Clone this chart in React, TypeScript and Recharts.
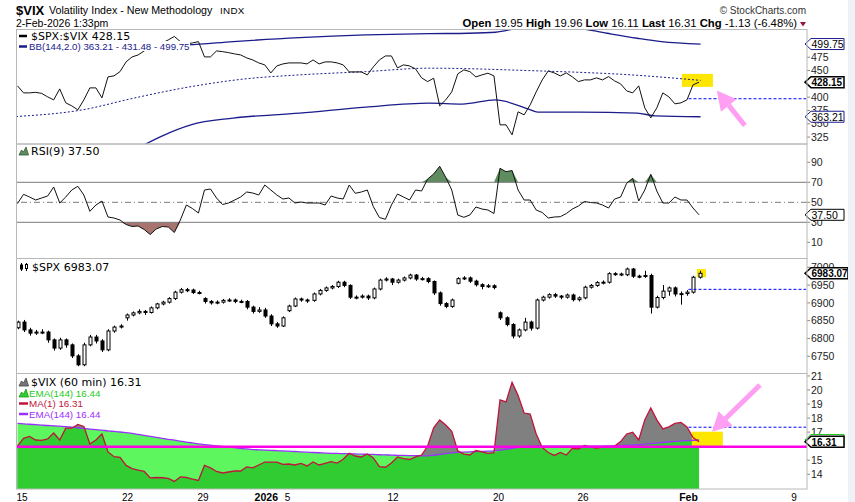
import React from "react";
import {
  Area,
  Bar,
  ComposedChart,
  Line,
  ReferenceArea,
  ReferenceLine,
  XAxis,
  YAxis,
} from "recharts";

const SANS = "'Liberation Sans', Arial, sans-serif";
const DEJAVU = "'DejaVu Sans', Verdana, sans-serif";

const NAVY = "#1b1b8c";
const BLUE = "#0000ff";
const PINK = "#ff9ff3";
const YELLOW = "#ffe600";
const FRAME = "#b8b8b8";

const PAGE_W = 855;
const AXIS_W = 41;
const MARGIN = { top: 0, right: 6, bottom: 0, left: 16 };
// x is the hourly bar number, 0 = first bar of 15 Dec
const T_DOMAIN: [number, number] = [-2, 260.3];

const dayTicks = [0, 35, 60, 81, 88, 123, 158, 186, 221, 256];
const dayLabels = ["15", "22", "29", "2026", "5", "12", "20", "26", "Feb", "9"];
const boldLabels = ["2026", "Feb"];

// one sample every two hourly bars
const ratio = [
  421.2, 408, 408, 409, 407.1, 400.5, 394.9, 415.5, 389.3, 383.6,
  376.1, 394.9, 417.4, 417.4, 398.6, 438, 440, 448, 466.2, 475.6,
  479.3, 486.8, 494.3, 498.1, 501.8, 507.5, 514, 504.3, 500, 501.8,
  504.3, 475.6, 475.6, 486.8, 485.5, 483.6, 481.2, 479.3, 473.7, 469.9,
  464.3, 460.6, 445.5, 458.7, 462.4, 464.3, 464.3, 464.3, 462.4, 469.9,
  462.4, 466.2, 466.2, 464.3, 460.6, 447.4, 447.4, 447.4, 441.8, 456.8,
  469.9, 477.4, 477.4, 454.9, 460.6, 458.7, 453, 436.2, 429.2, 435.6,
  383.6, 394.9, 409.9, 443.7, 451.2, 448, 438, 441.8, 445, 439.9,
  348, 348, 329.2, 372.4, 366.8, 385.5, 409.9, 432.4, 449.3, 445.5,
  439.9, 445.5, 438, 429.2, 432.4, 432.4, 436.2, 432.4, 438.6, 430.5,
  424.9, 411.8, 408, 421.2, 379.9, 361.1, 379.9, 408, 400.5, 387.4,
  389.3, 394.9, 423, 428.15,
];

const bbUpperT = [-2, 26, 55, 70, 92, 114, 135, 148, 157, 165, 175, 184, 194, 204, 212, 225];
const bbUpper = [494.3, 495.3, 498.1, 504.3, 511.8, 516.8, 519.3, 520, 521.9, 530, 533.7, 530, 520, 510.6, 504.3, 499.75];
const bbMidT = [-2, 20, 37, 55, 73, 92, 114, 135, 168, 202, 225];
const bbMid = [363.6, 376.1, 398.1, 418.7, 433.7, 441.8, 448, 454.4, 449.9, 441.8, 431.48];
const bbLowerT = [26, 41, 46, 56, 70, 92, 114, 135, 146, 157, 168, 171, 185, 204, 210, 225];
const bbLower = [262, 312, 326, 348, 360.6, 369.9, 381.2, 388.7, 387, 394.9, 377.4, 371.8, 371.8, 369.9, 364.9, 363.21];

const rsi = [
  48.8, 58, 55.3, 52.3, 54.3, 56.3, 65.3, 49.3, 55.3, 62.3,
  66, 57.3, 41, 47.3, 51.3, 35.3, 34.3, 32.3, 27.8, 25.8,
  26.3, 22.8, 17.8, 23.3, 25.8, 25.3, 19.8, 32.3, 47.3, 43.8,
  39.3, 62.3, 63.3, 54.3, 47.8, 49.3, 52.3, 55.3, 60.3, 59.3,
  57.3, 67.3, 62.3, 57.3, 53.3, 54.3, 49.3, 50.3, 49.3, 49.3,
  49.3, 47.3, 56.3, 54.3, 53.3, 67.3, 59, 60.3, 62.3, 45.6,
  34.8, 33, 47.3, 58.3, 55.3, 52.3, 62.3, 61.3, 73.3, 78.3,
  86, 75, 62.3, 37.3, 35, 37.3, 45.3, 43.3, 42.3, 38.8,
  84, 80.6, 81.8, 62.3, 52.3, 52.3, 42.3, 39.8, 34.3, 35.3,
  35.6, 38.8, 43.3, 46.3, 50.8, 49.8, 49.3, 47.3, 44.3, 53.3,
  55.3, 69, 74, 51.3, 62.3, 78, 61.3, 49.3, 49.3, 55.3,
  52.3, 52.3, 44.3, 37.5,
];

const spxOpen = [
  6830, 6846, 6824, 6815, 6818, 6818, 6796, 6773, 6796, 6782,
  6751, 6726, 6782, 6804, 6793, 6768, 6821, 6832, 6858, 6866,
  6872, 6876, 6873, 6886, 6897, 6902, 6912, 6930, 6937, 6936,
  6929, 6912, 6904, 6900, 6902, 6907, 6908, 6904, 6904, 6888,
  6876, 6880, 6863, 6841, 6835, 6878, 6891, 6911, 6908, 6907,
  6925, 6935, 6942, 6946, 6958, 6949, 6916, 6916, 6919, 6914,
  6939, 6964, 6967, 6958, 6964, 6970, 6978, 6967, 6968, 6960,
  6928, 6898, 6890, 6955, 6968, 6970, 6961, 6951, 6946, 6948,
  6872, 6858, 6839, 6807, 6824, 6846, 6829, 6908, 6916, 6923,
  6919, 6916, 6922, 6909, 6914, 6944, 6949, 6957, 6958, 6982,
  6981, 6979, 6995, 6975, 6974, 6977, 6888, 6915, 6933, 6942,
  6925, 6926, 6930, 6972,
];
const spxHigh = [
  6850, 6852, 6830, 6824, 6826, 6822, 6800, 6802, 6800, 6786,
  6756, 6788, 6810, 6810, 6798, 6826, 6836, 6840, 6870, 6876,
  6882, 6880, 6890, 6900, 6906, 6916, 6934, 6942, 6942, 6940,
  6934, 6916, 6908, 6907, 6911, 6913, 6912, 6909, 6908, 6892,
  6888, 6886, 6868, 6846, 6862, 6895, 6915, 6915, 6912, 6929,
  6939, 6946, 6950, 6962, 6962, 6952, 6921, 6924, 6923, 6943,
  6968, 6972, 6970, 6968, 6974, 6982, 6981, 6973, 6972, 6963,
  6932, 6902, 6912, 6972, 6975, 6974, 6965, 6955, 6953, 6952,
  6876, 6862, 6843, 6828, 6858, 6850, 6912, 6920, 6927, 6928,
  6922, 6926, 6926, 6918, 6948, 6953, 6961, 6963, 6986, 6986,
  6985, 6999, 6998, 6979, 6990, 6982, 6920, 6950, 6946, 6946,
  6932, 6936, 6976, 6990,
];
const spxLow = [
  6826, 6818, 6808, 6810, 6812, 6788, 6766, 6768, 6774, 6745,
  6722, 6722, 6778, 6786, 6762, 6764, 6816, 6828, 6850, 6862,
  6868, 6866, 6870, 6882, 6893, 6898, 6908, 6926, 6930, 6925,
  6924, 6898, 6895, 6896, 6898, 6903, 6899, 6899, 6882, 6870,
  6872, 6858, 6835, 6830, 6832, 6874, 6888, 6903, 6900, 6903,
  6921, 6931, 6938, 6942, 6944, 6911, 6910, 6912, 6908, 6910,
  6935, 6960, 6950, 6954, 6960, 6966, 6962, 6963, 6955, 6922,
  6892, 6885, 6886, 6952, 6964, 6956, 6946, 6938, 6942, 6938,
  6852, 6834, 6800, 6802, 6820, 6822, 6825, 6904, 6912, 6914,
  6910, 6912, 6904, 6904, 6910, 6940, 6945, 6952, 6954, 6976,
  6975, 6975, 6970, 6969, 6970, 6870, 6884, 6910, 6920, 6918,
  6895, 6920, 6926, 6968,
];
const spxClose = [
  6846, 6824, 6815, 6818, 6818, 6796, 6773, 6796, 6782, 6751,
  6726, 6782, 6804, 6793, 6768, 6821, 6832, 6835, 6866, 6872,
  6876, 6873, 6886, 6897, 6902, 6912, 6930, 6937, 6936, 6929,
  6928, 6904, 6900, 6902, 6907, 6908, 6904, 6904, 6888, 6876,
  6880, 6863, 6841, 6835, 6858, 6891, 6911, 6908, 6907, 6925,
  6935, 6942, 6946, 6958, 6949, 6916, 6916, 6919, 6914, 6939,
  6964, 6967, 6958, 6964, 6970, 6978, 6967, 6968, 6960, 6928,
  6898, 6890, 6908, 6968, 6970, 6961, 6951, 6946, 6948, 6943,
  6858, 6839, 6807, 6824, 6846, 6829, 6908, 6916, 6923, 6919,
  6916, 6922, 6909, 6914, 6944, 6949, 6957, 6958, 6982, 6981,
  6979, 6995, 6975, 6974, 6977, 6888, 6915, 6933, 6942, 6925,
  6926, 6930, 6972, 6983.07,
];

const vix = [
  16.01, 16.56, 16.69, 16.44, 16.41, 16.51, 16.94, 16.44, 17.28, 17.28,
  17.55, 17.4, 16.16, 16.44, 16.87, 15.59, 15.25, 15.2, 14.63, 14.4,
  14.3, 14.2, 13.74, 13.77, 13.75, 13.71, 13.49, 13.81, 13.77, 13.66,
  13.56, 14.63, 14.45, 14.2, 14.09, 14.16, 14.23, 14.23, 14.52, 14.45,
  14.66, 14.87, 14.87, 14.87, 14.7, 14.73, 14.66, 14.77, 14.59, 14.87,
  14.66, 14.78, 14.9, 14.8, 15.07, 15.5, 15.3, 15.23, 15.44, 15.16,
  14.55, 14.5, 14.8, 15.23, 15.12, 15.05, 15.23, 15.37, 16.01, 17.3,
  17.87, 17.51, 17.05, 15.66, 15.44, 15.37, 15.69, 15.59, 15.49, 15.54,
  19.29, 19.15, 20.55, 19.6, 18.36, 18.29, 16.87, 15.91, 15.55, 15.34,
  15.55, 15.37, 15.84, 15.8, 16.05, 15.94, 15.87, 15.94, 15.94, 16.01,
  16.33, 16.87, 16.99, 16.44, 17.87, 18.72, 17.87, 17.23, 17.37, 17.62,
  17.69, 17.37, 16.61, 16.31,
];
const ema144 = [
  17.62, 17.59, 17.56, 17.53, 17.5, 17.47, 17.45, 17.42, 17.39, 17.35,
  17.31, 17.26, 17.22, 17.18, 17.14, 17.09, 17.05, 17.01, 16.96, 16.91,
  16.84, 16.77, 16.7, 16.63, 16.56, 16.49, 16.43, 16.36, 16.29, 16.23,
  16.16, 16.11, 16.07, 16.02, 15.98, 15.93, 15.89, 15.84, 15.8, 15.76,
  15.74, 15.72, 15.7, 15.68, 15.66, 15.64, 15.62, 15.59, 15.57, 15.55,
  15.53, 15.51, 15.49, 15.48, 15.47, 15.46, 15.45, 15.43, 15.42, 15.41,
  15.39, 15.38, 15.36, 15.35, 15.34, 15.33, 15.32, 15.31, 15.31, 15.35,
  15.41, 15.47, 15.52, 15.56, 15.58, 15.6, 15.62, 15.63, 15.64, 15.66,
  15.72, 15.78, 15.85, 15.91, 15.96, 15.99, 16.0, 16.0, 16.0, 16.0,
  16.0, 16.0, 16.0, 16.0, 16.0, 16.01, 16.01, 16.01, 16.02, 16.03,
  16.04, 16.06, 16.08, 16.1, 16.14, 16.18, 16.22, 16.26, 16.3, 16.34,
  16.37, 16.4, 16.42, 16.44,
];

// scale labels (the ones hidden under a value tag are left out)
const ratioTicks = [325, 350, 375, 400, 450, 475];
const rsiTicks = [10, 30, 50, 70, 90];
const spxTicks = [6750, 6800, 6850, 6900, 6950, 7000];
const vixTicks = [14, 15, 17, 18, 19, 20, 21];

// last-value tags on the price axis
const ratioTags = [
  { value: 499.75, text: "499.75", color: NAVY, bold: false },
  { value: 363.21, text: "363.21", color: NAVY, bold: false },
  { value: 428.15, text: "428.15", color: "#000", bold: true },
];
const rsiTags = [{ value: 37.5, text: "37.50", color: "#000", bold: false }];
const spxTags = [{ value: 6983.07, text: "6983.07", color: "#000", bold: true }];
const vixTags = [
  { value: 16.44, text: "", color: "#22cc22", bold: false },
  { value: 16.31, text: "16.31", color: "#000", bold: true },
];

// hand-drawn annotations
const guideFrom = 221;
const guideTo = 260;
const ratioGuide = 397;
const spxGuide = 6938;
const vixGuide = 17.35;
const vixBase = 15.96;
const ratioBox = { x1: 218.8, x2: 229.1, y1: 419.3, y2: 443.7 };
const spxBox = { x1: 223.8, x2: 226.8, y1: 6972, y2: 6995 };
const vixBox = { x1: 222.1, x2: 232.4, y1: 15.92, y2: 17.03 };
const ratioArrow = [{ x: 239.7, y: 346.7 }, { x: 230.4, y: 412.3 }];
const vixArrow = [{ x: 244.7, y: 20.36 }, { x: 228.8, y: 17.03 }];

const rows = ratio.map((r, k) => ({
  t: 2 * k - 1.5,
  ratio: r,
  rsi: rsi[k],
  rsiHi: [70, Math.max(70, rsi[k])],
  rsiLo: [Math.min(30, rsi[k]), 30],
  vix: vix[k],
  ema: ema144[k],
  below: Math.min(vix[k], ema144[k]),
  o: spxOpen[k],
  h: spxHigh[k],
  l: spxLow[k],
  c: spxClose[k],
}));

const toRows = (ts: number[], vs: number[]) => ts.map((t, i) => ({ t, v: vs[i] }));
const bbUpperRows = toRows(bbUpperT, bbUpper);
const bbMidRows = toRows(bbMidT, bbMid);
const bbLowerRows = toRows(bbLowerT, bbLower);

type TagDef = { value: number; text: string; color: string; bold: boolean };

// drawn as ticks of a second, outer y axis so they sit on top of the scale labels
function tagTick(tags: TagDef[]) {
  return function TagTick(props: any) {
    const { x, y, payload } = props;
    const tag = tags.find((d) => d.value === payload.value);
    if (!tag) return null;
    const px = x - AXIS_W - 2;
    const h = 5.5;
    const w = tag.text.length > 6 ? 43 : 39;
    return (
      <g>
        <polygon
          points={`${px},${y} ${px + 6},${y - h} ${px + w},${y - h} ${px + w},${y + h} ${px + 6},${y + h}`}
          fill="#fff"
          stroke={tag.color}
          strokeWidth={tag.bold ? 1.5 : 1}
        />
        {tag.text && (
          <text
            x={px + 6.5}
            y={y + 3.8}
            fontFamily={SANS}
            fontSize={tag.bold ? 10 : 10.5}
            fontWeight={tag.bold ? 700 : 400}
            fill="#000"
          >
            {tag.text}
          </text>
        )}
      </g>
    );
  };
}

function Arrow(props: any) {
  const { x1, y1, x2, y2 } = props;
  if ([x1, y1, x2, y2].some((v) => typeof v !== "number" || isNaN(v))) return null;
  const a = Math.atan2(y2 - y1, x2 - x1);
  const len = 19;
  const half = 10;
  const bx = x2 - len * Math.cos(a);
  const by = y2 - len * Math.sin(a);
  const nx = -Math.sin(a);
  const ny = Math.cos(a);
  return (
    <g>
      <line x1={x1} y1={y1} x2={bx} y2={by} stroke={PINK} strokeWidth={5} />
      <polygon
        points={`${x2},${y2} ${bx + nx * half},${by + ny * half} ${bx - nx * half},${by - ny * half}`}
        fill={PINK}
      />
    </g>
  );
}

function Candle(props: any) {
  const { x, y, width, height, payload } = props;
  if (!payload || typeof y !== "number") return null;
  const { o, h, l, c } = payload;
  const top = Math.min(y, y + height);
  const bot = Math.max(y, y + height);
  const span = h - l || 1;
  const py = (v: number) => top + ((h - v) / span) * (bot - top);
  const cx = Math.round(x + width / 2) + 0.5;
  const bTop = py(Math.max(o, c));
  const bBot = py(Math.min(o, c));
  return (
    <g>
      <line x1={cx} x2={cx} y1={top} y2={bot} stroke="#000" strokeWidth={1} />
      <rect
        x={cx - width / 2}
        y={bTop}
        width={width}
        height={Math.max(1, bBot - bTop)}
        fill={c >= o ? "#fff" : "#000"}
        stroke="#000"
        strokeWidth={1}
      />
    </g>
  );
}

function DayTick(props: any) {
  const { x, y, payload } = props;
  const label = dayLabels[dayTicks.indexOf(payload.value)];
  const bold = boldLabels.includes(label);
  return (
    <text
      x={x}
      y={y + 11.5}
      textAnchor="middle"
      fontFamily={SANS}
      fontSize={bold ? 10.5 : 10}
      fontWeight={bold ? 700 : 400}
      fill="#000"
    >
      {label}
    </text>
  );
}

const yAxisProps = {
  orientation: "right" as const,
  width: AXIS_W,
  allowDataOverflow: true,
  interval: 0 as const,
  tickSize: 3,
  tickMargin: 1,
  axisLine: false,
  tickLine: { stroke: "#888" },
  tick: { fontSize: 10.5, fill: "#222", fontFamily: SANS },
};

const tagAxis = (domain: [number, number], tags: TagDef[]) => (
  <YAxis
    yAxisId="tags"
    orientation="right"
    width={1}
    domain={domain}
    allowDataOverflow
    ticks={tags.map((d) => d.value)}
    interval={0}
    tickSize={0}
    tickMargin={0}
    axisLine={false}
    tickLine={false}
    tick={tagTick(tags)}
  />
);

const hiddenX = (
  <XAxis type="number" dataKey="t" domain={T_DOMAIN} allowDataOverflow hide />
);

const ratioDomain: [number, number] = [312, 528];
const rsiDomain: [number, number] = [-5.7, 108.3];
const spxDomain: [number, number] = [6703, 7026];
const vixDomain: [number, number] = [12.95, 21.21];

function RatioPanel() {
  return (
    <ComposedChart width={PAGE_W} height={115} data={rows} margin={MARGIN}>
      {hiddenX}
      <YAxis {...yAxisProps} domain={ratioDomain} ticks={ratioTicks} />
      {tagAxis(ratioDomain, ratioTags)}
      <ReferenceArea {...ratioBox} fill={YELLOW} fillOpacity={1} stroke="none" />
      <Line data={bbUpperRows} dataKey="v" type="monotone" stroke={NAVY} strokeWidth={1.3} dot={false} isAnimationActive={false} />
      <Line data={bbLowerRows} dataKey="v" type="monotone" stroke={NAVY} strokeWidth={1.3} dot={false} isAnimationActive={false} />
      <Line data={bbMidRows} dataKey="v" type="monotone" stroke={NAVY} strokeWidth={1} strokeDasharray="2 2" dot={false} isAnimationActive={false} />
      <Line dataKey="ratio" type="linear" stroke="#111" strokeWidth={1} dot={false} isAnimationActive={false} />
      <ReferenceLine segment={[{ x: guideFrom, y: ratioGuide }, { x: guideTo, y: ratioGuide }]} stroke={BLUE} strokeDasharray="3 2" />
      <ReferenceLine segment={ratioArrow} shape={Arrow} />
    </ComposedChart>
  );
}

function RsiPanel() {
  return (
    <ComposedChart width={PAGE_W} height={114} data={rows} margin={MARGIN}>
      {hiddenX}
      <YAxis {...yAxisProps} domain={rsiDomain} ticks={rsiTicks} />
      {tagAxis(rsiDomain, rsiTags)}
      <Area dataKey="rsiHi" type="linear" fill="#5f8c5f" fillOpacity={1} stroke="none" isAnimationActive={false} />
      <Area dataKey="rsiLo" type="linear" fill="#a8746f" fillOpacity={1} stroke="none" isAnimationActive={false} />
      <ReferenceLine y={70} stroke="#7a7a7a" />
      <ReferenceLine y={30} stroke="#7a7a7a" />
      <ReferenceLine y={50} stroke="#7a7a7a" strokeDasharray="6 3 1 3" />
      <Line dataKey="rsi" type="linear" stroke="#111" strokeWidth={1} dot={false} isAnimationActive={false} />
    </ComposedChart>
  );
}

function SpxPanel() {
  return (
    <ComposedChart width={PAGE_W} height={115} data={rows} margin={MARGIN}>
      {hiddenX}
      <YAxis {...yAxisProps} domain={spxDomain} ticks={spxTicks} />
      {tagAxis(spxDomain, spxTags)}
      <ReferenceArea {...spxBox} fill={YELLOW} fillOpacity={1} stroke="none" />
      <Bar dataKey={(d: any) => [d.l, d.h]} barSize={3} shape={Candle} isAnimationActive={false} />
      <ReferenceLine segment={[{ x: guideFrom, y: spxGuide }, { x: guideTo, y: spxGuide }]} stroke={BLUE} strokeDasharray="3 2" />
    </ComposedChart>
  );
}

function VixPanel() {
  return (
    <ComposedChart width={PAGE_W} height={129} data={rows} margin={MARGIN}>
      <XAxis
        type="number"
        dataKey="t"
        domain={T_DOMAIN}
        allowDataOverflow
        ticks={dayTicks}
        interval={0}
        height={13}
        tickSize={0}
        tickMargin={0}
        axisLine={false}
        tickLine={false}
        tick={<DayTick />}
      />
      <YAxis {...yAxisProps} domain={vixDomain} ticks={vixTicks} />
      {tagAxis(vixDomain, vixTags)}
      <Area dataKey="vix" type="linear" fill="#808080" fillOpacity={1} stroke="none" isAnimationActive={false} />
      <Area dataKey="ema" type="monotone" fill="#5ef65e" fillOpacity={1} stroke="none" isAnimationActive={false} />
      <Area dataKey="below" type="linear" fill="#31cc31" fillOpacity={1} stroke="none" isAnimationActive={false} />
      <ReferenceArea {...vixBox} fill={YELLOW} fillOpacity={1} stroke="none" />
      <Line dataKey="ema" type="monotone" stroke="#9b30ff" strokeWidth={1.3} dot={false} isAnimationActive={false} />
      <Line dataKey="vix" type="linear" stroke="#c0143c" strokeWidth={1.3} dot={false} isAnimationActive={false} />
      <ReferenceLine y={vixBase} stroke="#ff00e6" strokeWidth={2.5} />
      <ReferenceLine segment={[{ x: guideFrom, y: vixGuide }, { x: guideTo, y: vixGuide }]} stroke={BLUE} strokeDasharray="3 2" />
      <ReferenceLine segment={vixArrow} shape={Arrow} />
    </ComposedChart>
  );
}

function Mountain({ x, y, fill, stroke }: { x: number; y: number; fill: string; stroke: string }) {
  return (
    <polygon
      points={`${x},${y + 8} ${x + 2.5},${y + 3} ${x + 4.5},${y + 5} ${x + 7},${y} ${x + 9.5},${y + 8}`}
      fill={fill}
      stroke={stroke}
      strokeWidth={0.8}
    />
  );
}

function Overlay() {
  const frames = [
    [29.5, 114.5],
    [144, 114.5],
    [258.5, 115],
    [373.5, 115.5],
  ];
  return (
    <svg
      width={PAGE_W}
      height={502}
      style={{ position: "absolute", left: 0, top: 0, pointerEvents: "none" }}
    >
      <rect x={848} y={0} width={7} height={502} fill="#eef1f6" />
      {frames.map(([y, h], i) => (
        <rect key={i} x={16.5} y={y} width={790.5} height={h} fill="none" stroke={FRAME} strokeWidth={1} />
      ))}

      <text x={16} y={14.5} fontFamily={SANS} fontWeight={700} fontSize={13}>$VIX</text>
      <text x={49} y={14} fontFamily={SANS} fontSize={10.7}>Volatility Index - New Methodology</text>
      <text x={220} y={14} fontFamily={SANS} fontSize={9.8} letterSpacing={0.3}>INDX</text>
      <text x={16} y={26.5} fontFamily={SANS} fontSize={10.5}>2-Feb-2026 1:33pm</text>
      <text x={806} y={13.5} textAnchor="end" fontFamily={SANS} fontSize={10} fill="#333">
        © StockCharts.com
      </text>
      <text x={797} y={27} textAnchor="end" fontFamily={SANS} fontSize={11.3} fill="#000">
        <tspan fontWeight={700}>Open</tspan> 19.95 <tspan fontWeight={700}>High</tspan> 19.96{" "}
        <tspan fontWeight={700}>Low</tspan> 16.11 <tspan fontWeight={700}>Last</tspan> 16.31{" "}
        <tspan fontWeight={700}>Chg</tspan> -1.13 (-6.48%)
      </text>
      <polygon points="800,22 806,22 803,26.5" fill="#99143d" />

      <rect x={17} y={30} width={118} height={11} fill="#fff" />
      <line x1={19} x2={27} y1={36} y2={36} stroke="#000" strokeWidth={2.5} />
      <text x={31} y={40} fontFamily={DEJAVU} fontSize={11}>$SPX:$VIX 428.15</text>
      <rect x={17} y={41} width={173} height={10} fill="#fff" />
      <line x1={19} x2={27} y1={46.5} y2={46.5} stroke={NAVY} strokeWidth={2.5} />
      <text x={29} y={49.5} fontFamily={SANS} fontSize={9.7} fill={NAVY}>BB(144,2.0) 363.21 - 431.48 - 499.75</text>

      <Mountain x={19} y={147} fill="#5f8c5f" stroke="#2f5a2f" />
      <text x={31} y={155} fontFamily={DEJAVU} fontSize={11}>RSI(9) 37.50</text>

      <g stroke="#000" strokeWidth={1}>
        <line x1={21.5} x2={21.5} y1={263} y2={271} />
        <rect x={20.5} y={265} width={2} height={4} fill="#000" />
        <line x1={26.5} x2={26.5} y1={263} y2={271} />
        <rect x={25.5} y={264.5} width={2} height={4} fill="#fff" />
      </g>
      <text x={32} y={271} fontFamily={DEJAVU} fontSize={11}>$SPX 6983.07</text>

      <Mountain x={19} y={378} fill="#777" stroke="#444" />
      <text x={31} y={385.5} fontFamily={DEJAVU} fontSize={11}>$VIX (60 min) 16.31</text>
      <Mountain x={19} y={389} fill="#31cc31" stroke="#1a9a1a" />
      <text x={29} y={396.5} fontFamily={SANS} fontSize={9.8} fill="#22cc22">EMA(144) 16.44</text>
      <line x1={19} x2={28} y1={403.5} y2={403.5} stroke="#c0143c" strokeWidth={2.5} />
      <text x={29} y={407} fontFamily={SANS} fontSize={9.8} fill="#c0143c">MA(1) 16.31</text>
      <line x1={19} x2={28} y1={414} y2={414} stroke="#9b30ff" strokeWidth={2.5} />
      <text x={29} y={417.5} fontFamily={SANS} fontSize={9.8} fill="#9b30ff">EMA(144) 16.44</text>
    </svg>
  );
}

export default function App() {
  return (
    <div style={{ position: "relative", width: PAGE_W, height: 502, background: "#fff", overflow: "hidden" }}>
      <style>{"body{margin:0} .recharts-surface{overflow:visible}"}</style>
      <div style={{ position: "absolute", left: 0, top: 29 }}>
        <RatioPanel />
      </div>
      <div style={{ position: "absolute", left: 0, top: 144 }}>
        <RsiPanel />
      </div>
      <div style={{ position: "absolute", left: 0, top: 258 }}>
        <SpxPanel />
      </div>
      <div style={{ position: "absolute", left: 0, top: 373 }}>
        <VixPanel />
      </div>
      <Overlay />
    </div>
  );
}
